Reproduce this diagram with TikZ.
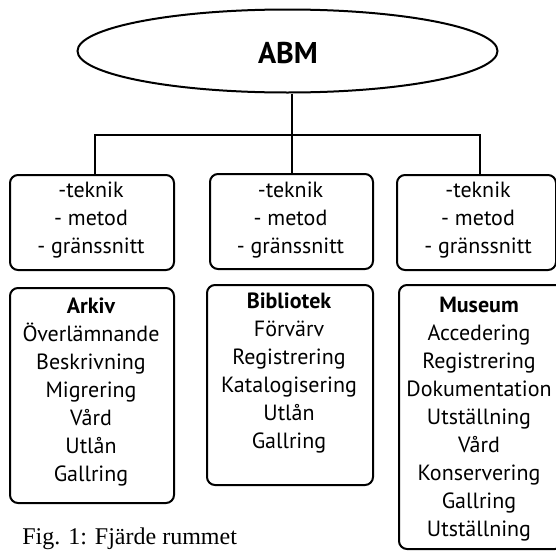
\documentclass[tikz,border=0pt]{standalone}
\usepackage{fontspec}
\setmainfont{PT Sans}
\newfontfamily\capfont{Liberation Serif}
\usetikzlibrary{shapes.geometric}
\begin{document}
\begin{tikzpicture}[x=0.75pt,y=-0.75pt,
  box/.style={draw, line width=1.5pt, rounded corners=6pt, inner sep=0pt, anchor=north west},
  txt/.style={anchor=base, inner sep=0pt, font=\fontsize{16.5}{19}\selectfont},
  ttl/.style={txt, font=\fontsize{16.5}{19}\selectfont\bfseries},
  conn/.style={line width=1.5pt}]
\useasboundingbox (0,0) rectangle (556,550);
\clip (0,0) rectangle (556,550);
% ellipse
\node[draw, ellipse, line width=1.5pt, minimum width=420*0.75pt, minimum height=83*0.75pt, inner sep=0pt] (abm) at (287.5,51) {};
\node[anchor=base, inner sep=0pt, font=\fontsize{22.5}{26}\selectfont\bfseries] (abmt) at (288,63) {ABM};
% top boxes
\node[box, minimum width=164*0.75pt, minimum height=95*0.75pt] (t1) at (9,174) {};
\node[box, minimum width=163*0.75pt, minimum height=95*0.75pt] (t2) at (209,173) {};
\node[box, minimum width=159*0.75pt, minimum height=95*0.75pt] (t3) at (396,174) {};
% bottom boxes
\node[box, minimum width=164*0.75pt, minimum height=215*0.75pt] (b1) at (9,287) {};
\node[box, minimum width=166*0.75pt, minimum height=200*0.75pt] (b2) at (206,284) {};
\node[box, minimum width=164*0.75pt, minimum height=264*0.75pt] (b3) at (398,284) {};
% connectors
\coordinate (bar) at (0,135);
\coordinate (c1) at ([xshift=2.25pt]t1.north);
\coordinate (c3) at ([xshift=2.25pt]t3.north);
\draw[conn] (abm.south -| t2.north) -- (t2.north);
\draw[conn] (c1) -- (c1 |- bar) -- (c3 |- bar) -- (c3);
% top box texts
\foreach \b/\x in {t1/91, t2/290.5, t3/478}{
  \node[txt] (\b a) at (\x,197) {-teknik};
  \node[txt] (\b b) at (\x,225) {- metod};
  \node[txt] (\b c) at (\x,253) {- gränssnitt};
}
% bottom box texts
\node[ttl] (b1h) at (91,313) {Arkiv};
\foreach [count=\i] \t in {Överlämnande,Beskrivning,Migrering,Vård,Utlån,Gallring}
  \node[txt] (b1l\i) at (91,313+28*\i) {\t};
\node[ttl] (b2h) at (289,308) {Bibliotek};
\foreach [count=\i] \t in {Förvärv,Registrering,Katalogisering,Utlån,Gallring}
  \node[txt] (b2l\i) at (289,308+28*\i) {\t};
\node[ttl] (b3h) at (479,312) {Museum};
\foreach [count=\i] \t in {Accedering,Registrering,Dokumentation,Utställning,Vård,Konservering,Gallring,Utställning}
  \node[txt] (b3l\i) at (479,312+28*\i) {\t};
% caption
\node[anchor=base west, inner sep=0pt, font=\capfont\fontsize{18}{21}\selectfont] (cap) at (22,544) {Fig. 1: Fjärde rummet};
\end{tikzpicture}
\end{document}
